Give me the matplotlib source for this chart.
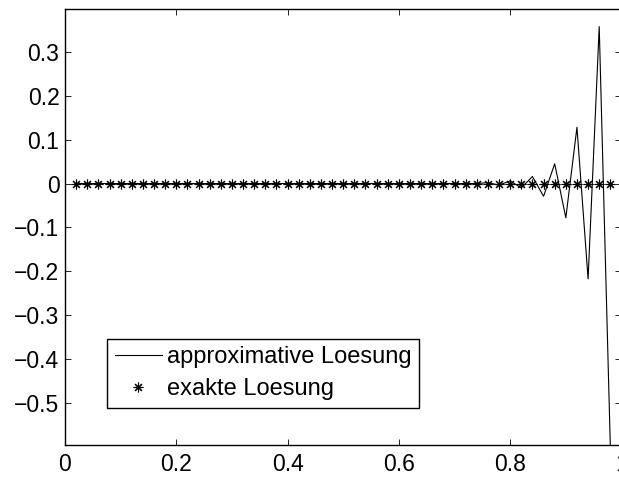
import numpy as np
import matplotlib
matplotlib.use("Agg")
import matplotlib.pyplot as plt

plt.rcParams['font.family'] = ['Liberation Sans', 'DejaVu Sans']

# Gitterpunkte x_i = i/50, i = 1..49
x_points = [i / 50 for i in range(1, 50)]

# approximative Loesung, vor 0.76 praktisch null
approx_tail = [0.002, -0.0036, 0.006, -0.010, 0.016, -0.029, 0.045,
               -0.078, 0.128, -0.217, 0.357, -0.60]
approx = [0.0] * (len(x_points) - len(approx_tail)) + approx_tail

# exakte Loesung
exact = [0.0] * len(x_points)

x_ticks = [0, 0.2, 0.4, 0.6, 0.8, 1]
x_ticklabels = ["0", "0.2", "0.4", "0.6", "0.8", "1"]
y_ticks = [-0.5, -0.4, -0.3, -0.2, -0.1, 0, 0.1, 0.2, 0.3]
y_ticklabels = ["\u22120.5", "\u22120.4", "\u22120.3", "\u22120.2",
                "\u22120.1", "0", "0.1", "0.2", "0.3"]


def main():
    fig = plt.figure(figsize=(6.19, 4.80), dpi=100)
    ax = fig.add_axes([0.105, 0.073, 0.899, 0.909])

    asterisk = (8, 2, 0)
    ax.plot(x_points, approx, color="black", linewidth=0.8,
            label="approximative Loesung")
    ax.plot(x_points, exact, linestyle="none", marker=asterisk,
            markersize=7, markeredgewidth=0.8, color="black",
            label="exakte Loesung")

    ax.set_xlim(0, 1)
    ax.set_ylim(-0.595, 0.398)
    ax.set_xticks(x_ticks)
    ax.set_xticklabels(x_ticklabels)
    ax.set_yticks(y_ticks)
    ax.set_yticklabels(y_ticklabels)
    ax.tick_params(direction="in", length=4, width=0.6, labelsize=16.5,
                   top=True, right=True)
    ax.tick_params(axis="x", pad=6)
    ax.tick_params(axis="y", pad=4)
    for s in ax.spines.values():
        s.set_linewidth(1.0)

    leg = ax.legend(loc="upper left", bbox_to_anchor=(0.0755, 0.243),
                    fontsize=17, frameon=True, fancybox=False,
                    edgecolor="black", framealpha=1, handlelength=2.0,
                    handletextpad=0.2, borderpad=0.32, labelspacing=0.42,
                    borderaxespad=0)
    leg.get_frame().set_linewidth(1.0)

    fig.savefig("out.png", dpi=100)


if __name__ == "__main__":
    main()
